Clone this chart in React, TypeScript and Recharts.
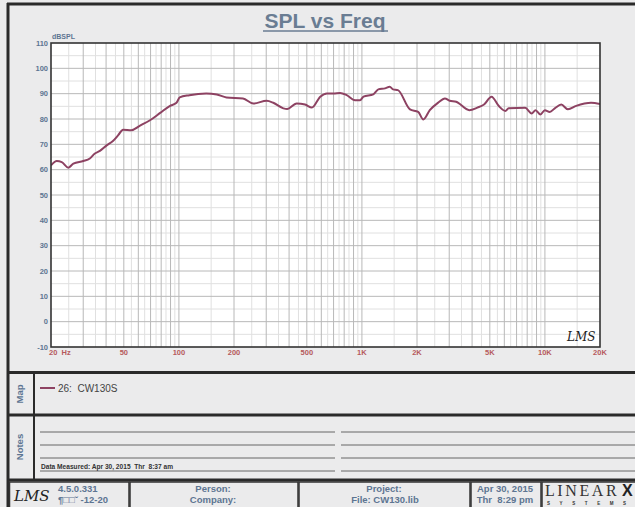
import React from "react";
import { LineChart, Line, XAxis, YAxis, ReferenceLine, ReferenceArea } from "recharts";

const freqHz = [20, 21.5, 22.9, 24.9, 26.5, 30, 32.6, 34.6, 37, 40.3, 43.6, 46.6, 49.5, 55, 61, 69.5, 79, 89, 97, 101, 114, 141, 161, 182, 224, 255, 302, 328, 372, 390, 440, 489, 533, 592, 644, 700, 760, 826, 917, 977, 1020, 1154, 1229, 1337, 1420, 1480, 1573, 1831, 2030, 2166, 2349, 2614, 2840, 3017, 3274, 3863, 4279, 4649, 5110, 5601, 6081, 6337, 7796, 8460, 8889, 9457, 9990, 10630, 11320, 12290, 13360, 14820, 16450, 17870, 20000];
const splDb = [61.7, 63.4, 63, 60.8, 62.4, 63.4, 64.4, 66.3, 67.4, 69.6, 71.3, 73.6, 75.8, 75.6, 77.3, 79.5, 82.4, 85.1, 86.4, 88.5, 89.4, 90.1, 89.7, 88.5, 88.1, 86.1, 87.2, 86.4, 84.2, 83.9, 86.1, 85.7, 84.5, 88.8, 90.1, 90.1, 90.3, 89.4, 87.4, 87.4, 88.8, 89.7, 91.7, 92.1, 92.7, 91.7, 91.4, 83.8, 82.8, 79.8, 83.5, 86.5, 88.1, 87.2, 86.8, 83.5, 84.5, 85.7, 88.8, 85.1, 83.2, 84.2, 84.4, 82.2, 83.5, 81.8, 83.5, 82.8, 84.2, 85.7, 83.8, 85.2, 86.1, 86.4, 85.9];

const xTicks = [20, 50, 100, 200, 500, 1000, 2000, 5000, 10000, 20000];
const xTickLabels = ["20  Hz", "50", "100", "200", "500", "1K", "2K", "5K", "10K", "20K"];
const yTicks = [-10, 0, 10, 20, 30, 40, 50, 60, 70, 80, 90, 100, 110];
const xMajorGrid = [30, 40, 50, 60, 70, 80, 90, 100, 200, 300, 400, 500, 600, 700, 800, 900, 1000, 2000, 3000, 4000, 5000, 6000, 7000, 8000, 9000, 10000];
const xMinorGrid = [25, 35, 45, 55, 65, 75, 85, 95, 150, 250, 350, 450, 550, 650, 750, 850, 950, 1500, 2500, 3500, 4500, 5500, 6500, 7500, 8500, 9500, 15000];
const yMajorGrid = [0, 10, 20, 30, 40, 50, 60, 70, 80, 90, 100];
const yMinorGrid = [-5, 5, 15, 25, 35, 45, 55, 65, 75, 85, 95, 105];

const data = freqHz.map((f, i) => ({ f, spl: splDb[i] }));

const SLATE = "#5d7592";
const RED = "#b65a5c";
const CURVE = "#8d4262";
const FONT = "'Liberation Sans', Arial, sans-serif";

const XTick = (props: any) => {
  const { x, y, payload } = props;
  const i = xTicks.indexOf(payload.value);
  const first = payload.value === 20;
  return (
    <text x={first ? x - 2 : x} y={y + 8} textAnchor={first ? "start" : "middle"} fill={RED} fontSize={7.5} fontWeight="bold" fontFamily={FONT} style={{ whiteSpace: "pre" }}>
      {i >= 0 ? xTickLabels[i] : payload.value}
    </text>
  );
};

const YTick = (props: any) => {
  const { x, y, payload } = props;
  return (
    <text x={x - 3} y={y + 2.7} textAnchor="end" fill={SLATE} fontSize={7.5} fontWeight="bold" fontFamily={FONT}>
      {payload.value}
    </text>
  );
};

export default function App() {
  return (
    <div style={{ position: "absolute", left: 0, top: 0, width: 635, height: 507, background: "#ebebec", overflow: "hidden" }}>
      <div style={{ position: "absolute", left: 0, top: 0 }}>
        <LineChart width={635} height={507} data={data} margin={{ top: 43, right: 35, bottom: 140, left: 8 }}>
          <XAxis dataKey="f" type="number" scale="log" domain={[20, 20000]} ticks={xTicks} allowDataOverflow interval={0} axisLine={false} tickLine={false} tickSize={0} tickMargin={0} height={20} tick={<XTick />} />
          <YAxis type="number" domain={[-10, 110]} ticks={yTicks} allowDataOverflow interval={0} axisLine={false} tickLine={false} tickSize={0} tickMargin={0} width={43} tick={<YTick />} />
          <ReferenceArea x1={20} x2={20000} y1={-10} y2={110} fill="#ffffff" fillOpacity={1} stroke="none" />
          {xMinorGrid.map((v) => (
            <ReferenceLine key={"xm" + v} x={v} stroke="#e0e0e0" strokeWidth={1} />
          ))}
          {yMinorGrid.map((v) => (
            <ReferenceLine key={"ym" + v} y={v} stroke="#e0e0e0" strokeWidth={1} />
          ))}
          {xMajorGrid.map((v) => (
            <ReferenceLine key={"xM" + v} x={v} stroke="#b8b8b8" strokeWidth={1} />
          ))}
          {yMajorGrid.map((v) => (
            <ReferenceLine key={"yM" + v} y={v} stroke="#b8b8b8" strokeWidth={1} />
          ))}
          <Line type="monotone" dataKey="spl" stroke={CURVE} strokeWidth={2} dot={false} isAnimationActive={false} />
        </LineChart>
      </div>
      <svg width={635} height={507} style={{ position: "absolute", left: 0, top: 0, pointerEvents: "none" }} fontFamily={FONT}>
        {/* outer frame */}
        <line x1={8} y1={3} x2={8} y2={507} stroke="#2a2a2a" strokeWidth={3} />
        <line x1={7} y1={4} x2={635} y2={4} stroke="#2a2a2a" strokeWidth={3} />
        {/* title */}
        <text x={325} y={28} textAnchor="middle" fontSize={21} fontWeight="bold" fill="#6a7d93">SPL vs Freq</text>
        <line x1={263} y1={31} x2={388} y2={31} stroke="#6a7d93" strokeWidth={1.5} />
        <text x={52} y={39} fontSize={7} fontWeight="bold" fill={SLATE}>dBSPL</text>
        {/* plot frame */}
        <rect x={51} y={43} width={549} height={304} fill="none" stroke="#333" strokeWidth={1.6} />
        {/* LMS in plot */}
        <text x={567} y={341} fontSize={12} fontStyle="italic" fontFamily="'DejaVu Serif', serif" fill="#222">LMS</text>
        {/* section dividers */}
        <line x1={8} y1={372.5} x2={635} y2={372.5} stroke="#2a2a2a" strokeWidth={3} />
        <line x1={8} y1={415} x2={635} y2={415} stroke="#2a2a2a" strokeWidth={3} />
        <line x1={8} y1={480} x2={635} y2={480} stroke="#2a2a2a" strokeWidth={3} />
        <line x1={34} y1={373} x2={34} y2={480} stroke="#2a2a2a" strokeWidth={2} />
        <text transform="translate(23,394) rotate(-90)" textAnchor="middle" fontSize={9.5} fontWeight="bold" fill={SLATE}>Map</text>
        <text transform="translate(23,447) rotate(-90)" textAnchor="middle" fontSize={9.5} fontWeight="bold" fill={SLATE}>Notes</text>
        {/* legend */}
        <line x1={40} y1={388} x2={55} y2={388} stroke={CURVE} strokeWidth={2} />
        <text x={58} y={391.5} fontSize={10} fill="#444" style={{ whiteSpace: "pre" }}>26:  CW130S</text>
        {/* notes lines */}
        {[432, 445, 458, 471].map((y) => (
          <g key={y}>
            <line x1={40} y1={y} x2={335} y2={y} stroke="#666" strokeWidth={1} />
            <line x1={341} y1={y} x2={635} y2={y} stroke="#666" strokeWidth={1} />
          </g>
        ))}
        <text x={41} y={469} fontSize={6.6} fontWeight="bold" fill="#333" style={{ whiteSpace: "pre" }}>Data Measured: Apr 30, 2015  Thr  8:37 am</text>
        {/* bottom strip */}
        <rect x={9.5} y={482} width={119.5} height={26} fill="none" stroke="#333" strokeWidth={1.5} />
        <rect x={130} y={482} width={168} height={26} fill="none" stroke="#333" strokeWidth={1.5} />
        <rect x={299} y={482} width={171} height={26} fill="none" stroke="#333" strokeWidth={1.5} />
        <rect x={471} y={482} width={70} height={26} fill="none" stroke="#333" strokeWidth={1.5} />
        <rect x={542} y={482} width={100} height={26} fill="none" stroke="#333" strokeWidth={1.5} />
        <text x={14} y={501} fontSize={15} fontStyle="italic" fontFamily="'DejaVu Serif', serif" fill="#222">LMS</text>
        <text x={58} y={492} fontSize={9.5} fontWeight="bold" fill={SLATE}>4.5.0.331</text>
        <text x={58} y={503} fontSize={9.5} fontWeight="bold" fill={SLATE} style={{ whiteSpace: "pre" }}>¶□□ˇ -12-20</text>
        <text x={213} y={492} textAnchor="middle" fontSize={9.5} fontWeight="bold" fill={SLATE}>Person:</text>
        <text x={213} y={503} textAnchor="middle" fontSize={9.5} fontWeight="bold" fill={SLATE}>Company:</text>
        <text x={384} y={492} textAnchor="middle" fontSize={9.5} fontWeight="bold" fill={SLATE}>Project:</text>
        <text x={385} y={503} textAnchor="middle" fontSize={9.5} fontWeight="bold" fill={SLATE}>File: CW130.lib</text>
        <text x={505} y={492} textAnchor="middle" fontSize={9.5} fontWeight="bold" fill={SLATE}>Apr 30, 2015</text>
        <text x={505} y={503} textAnchor="middle" fontSize={9.5} fontWeight="bold" fill={SLATE} style={{ whiteSpace: "pre" }}>Thr  8:29 pm</text>
        <text x={545} y={496} fontSize={16} fontFamily="'Liberation Serif', serif" fill="#333" letterSpacing={2.6}>LINEAR</text>
        <text x={622} y={496} fontSize={16} fontWeight="bold" fill="#222">X</text>
        <text x={547} y={505} fontSize={4.5} fontWeight="bold" fill="#333" letterSpacing={9.6}>SYSTEMS</text>
      </svg>
    </div>
  );
}
